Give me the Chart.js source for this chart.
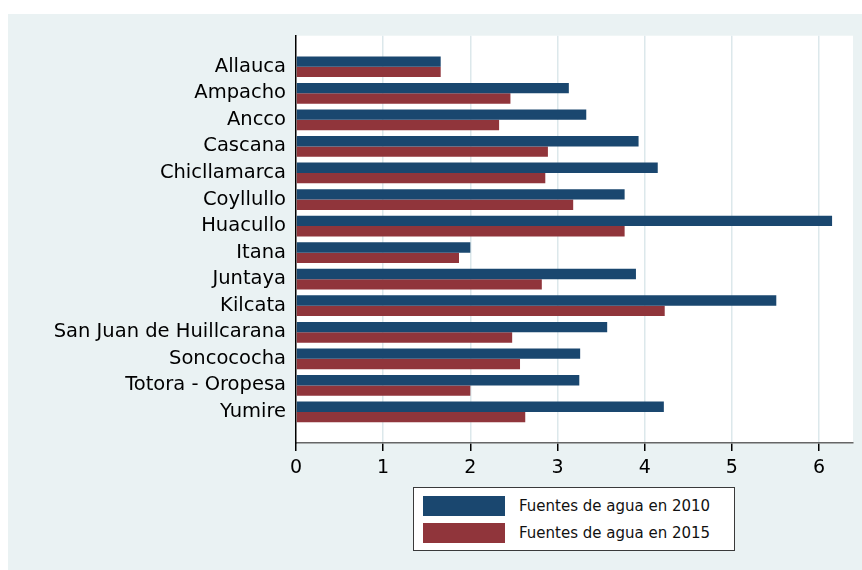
<!DOCTYPE html>
<html>
<head>
<meta charset="utf-8">
<title>Fuentes de agua</title>
<script src="https://cdn.jsdelivr.net/npm/chart.js@4"></script>
<style>
  html, body { margin: 0; padding: 0; background: #fff; }
  #fondo { position: absolute; left: 8px; top: 14px; width: 854px; height: 556px; background: #eaf2f3; }
  #fondo canvas { position: absolute; left: 0; top: 0; }
  #leyenda { position: absolute; left: 405px; top: 473px; width: 320px; height: 62px; background: #fff;
             border: 1px solid #3a3a3a; font: 15px "DejaVu Sans", sans-serif; color: #111; }
  .item { position: absolute; left: 9px; height: 20px; display: flex; align-items: center; white-space: nowrap; }
  .caja { width: 82px; height: 20px; margin-right: 14px; }
</style>
</head>
<body>
<div id="fondo">
  <canvas id="grafico" width="854" height="556"></canvas>
  <div id="leyenda"></div>
</div>
<script>
const categorias = ["Allauca", "Ampacho", "Ancco", "Cascana", "Chicllamarca", "Coyllullo", "Huacullo",
  "Itana", "Juntaya", "Kilcata", "San Juan de Huillcarana", "Soncococha", "Totora - Oropesa", "Yumire"];
const fuentes2010 = [1.66, 3.13, 3.33, 3.93, 4.15, 3.77, 6.15, 2.00, 3.90, 5.51, 3.57, 3.26, 3.25, 4.22];
const fuentes2015 = [1.66, 2.46, 2.33, 2.89, 2.86, 3.18, 3.77, 1.87, 2.82, 4.23, 2.48, 2.57, 2.00, 2.63];
const xTicks = [0, 1, 2, 3, 4, 5, 6];

const azul = "#1a476f";
const granate = "#90353b";
const rejilla = "#dce8eb";

Chart.defaults.font.family = '"DejaVu Sans", sans-serif';
Chart.defaults.color = "#000";

// fondo blanco solo dentro del area del grafico
const fondoBlanco = {
  id: "fondoBlanco",
  beforeDraw(chart) {
    const { ctx, chartArea: a } = chart;
    ctx.save();
    ctx.fillStyle = "#fff";
    ctx.fillRect(a.left, a.top, a.right - a.left, a.bottom - a.top);
    ctx.restore();
  }
};

const grafico = new Chart("grafico", {
  type: "bar",
  data: {
    datasets: [
      {
        label: "Fuentes de agua en 2010",
        data: fuentes2010.map((v, i) => ({ x: v, y: i })),
        backgroundColor: azul
      },
      {
        label: "Fuentes de agua en 2015",
        data: fuentes2015.map((v, i) => ({ x: v, y: i })),
        backgroundColor: granate
      }
    ]
  },
  options: {
    indexAxis: "y",
    responsive: false,
    animation: false,
    categoryPercentage: 0.78,
    barPercentage: 1,
    layout: { padding: { left: 0, top: 21, right: 9, bottom: 0 } },
    plugins: { legend: { display: false }, tooltip: { enabled: false } },
    scales: {
      x: {
        type: "linear",
        min: 0,
        max: 6.39,
        afterBuildTicks: axis => { axis.ticks = xTicks.map(v => ({ value: v })); },
        afterFit: axis => { axis.height = 127; },
        ticks: { font: { size: 19 }, padding: 6, maxRotation: 0 },
        grid: {
          color: c => (c.tick && c.tick.value === 0 ? "rgba(0,0,0,0)" : rejilla),
          lineWidth: 1.5,
          tickColor: "#000",
          tickLength: 8
        },
        border: { color: "#666", width: 1.5 }
      },
      y: {
        type: "linear",
        reverse: true,
        offset: false,
        min: -1.17,
        max: 14.17,
        afterBuildTicks: axis => { axis.ticks = categorias.map((c, i) => ({ value: i })); },
        afterFit: axis => { axis.width = 288; },
        ticks: { font: { size: 19.5 }, padding: 10, callback: v => categorias[v] },
        grid: { display: false, drawTicks: false },
        border: { color: "#000", width: 1.5 }
      }
    }
  },
  plugins: [fondoBlanco]
});

// leyenda en recuadro, dos filas
const leyenda = document.getElementById("leyenda");
grafico.data.datasets.forEach((ds, i) => {
  const fila = document.createElement("div");
  fila.className = "item";
  fila.style.top = (8 + i * 27) + "px";
  const caja = document.createElement("span");
  caja.className = "caja";
  caja.style.background = ds.backgroundColor;
  const texto = document.createElement("span");
  texto.textContent = ds.label;
  fila.appendChild(caja);
  fila.appendChild(texto);
  leyenda.appendChild(fila);
});
</script>
</body>
</html>
